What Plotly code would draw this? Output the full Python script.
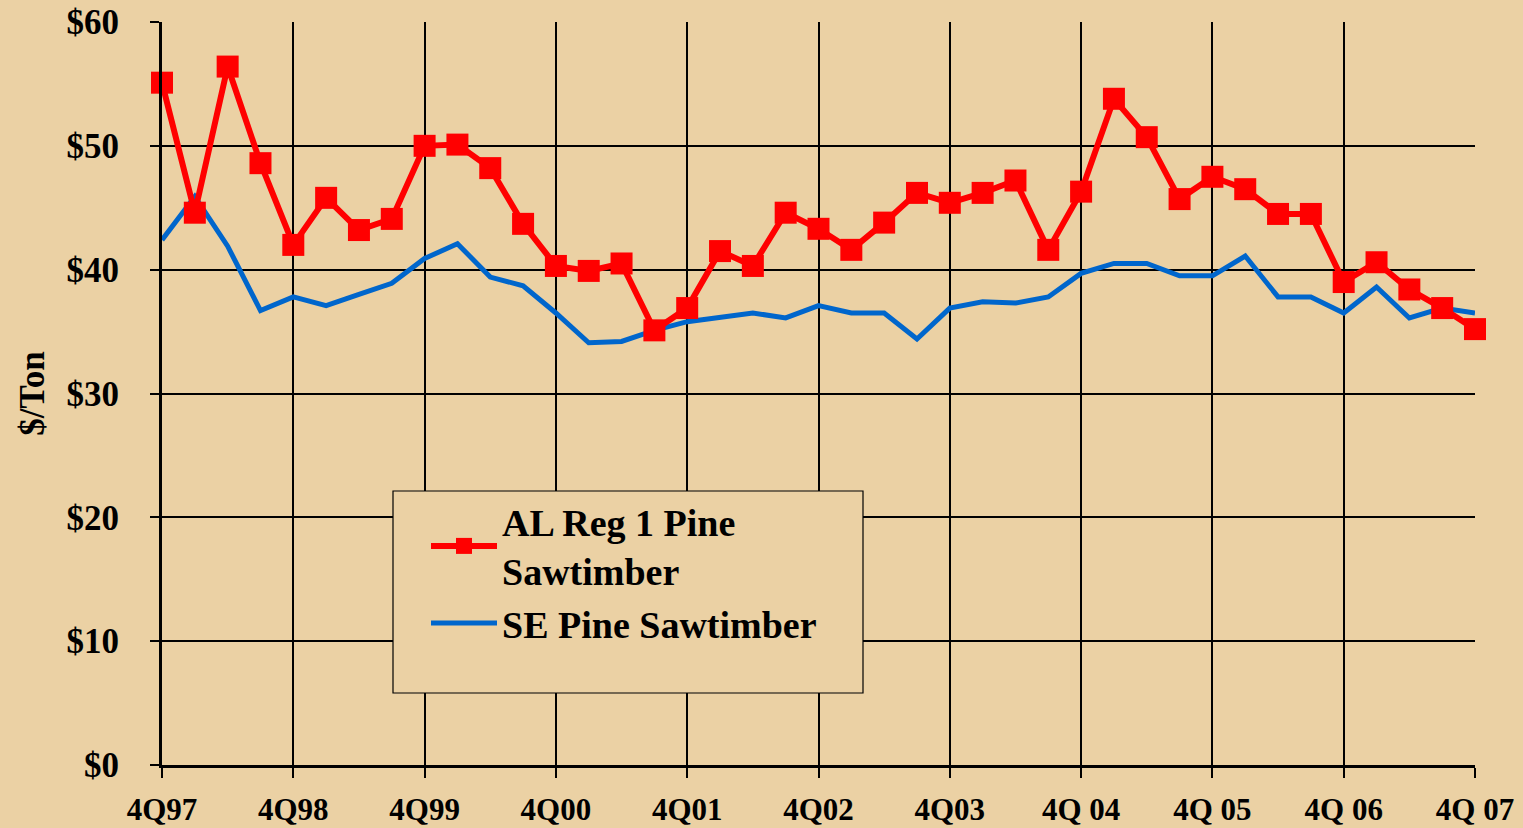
import plotly.graph_objects as go

quarters = [
    "4Q97", "1Q98", "2Q98", "3Q98", "4Q98", "1Q99", "2Q99", "3Q99", "4Q99",
    "1Q00", "2Q00", "3Q00", "4Q00", "1Q01", "2Q01", "3Q01", "4Q01",
    "1Q02", "2Q02", "3Q02", "4Q02", "1Q03", "2Q03", "3Q03", "4Q03",
    "1Q04", "2Q04", "3Q04", "4Q 04", "1Q05", "2Q05", "3Q05", "4Q 05",
    "1Q06", "2Q06", "3Q06", "4Q 06", "1Q07", "2Q07", "3Q07", "4Q 07",
]
tick_labels = ["4Q97", "4Q98", "4Q99", "4Q00", "4Q01", "4Q02", "4Q03",
               "4Q 04", "4Q 05", "4Q 06", "4Q 07"]

al_reg1 = [55.1, 44.6, 56.4, 48.6, 42.0, 45.8, 43.2, 44.1, 50.0,
           50.1, 48.2, 43.7, 40.3, 39.9, 40.5, 35.1, 36.9,
           41.5, 40.3, 44.6, 43.3, 41.6, 43.8, 46.2, 45.4,
           46.2, 47.2, 41.6, 46.3, 53.8, 50.7, 45.7, 47.5,
           46.5, 44.5, 44.5, 39.0, 40.6, 38.4, 36.9, 35.2]
se_pine = [42.4, 45.9, 41.9, 36.7, 37.8, 37.1, 38.0, 38.9, 40.9,
           42.1, 39.4, 38.7, 36.5, 34.1, 34.2, 35.1, 35.8,
           36.2, 36.5, 36.1, 37.1, 36.5, 36.5, 34.4, 36.9,
           37.4, 37.3, 37.8, 39.7, 40.5, 40.5, 39.5, 39.5,
           41.1, 37.8, 37.8, 36.5, 38.6, 36.1, 36.9, 36.5]
y_ticks = [0, 10, 20, 30, 40, 50, 60]
y_tick_labels = ["$0", "$10", "$20", "$30", "$40", "$50", "$60"]

bg = "#EBD1A4"
font_family = "Liberation Serif"

fig = go.Figure()
fig.add_trace(go.Scatter(
    x=quarters, y=se_pine, mode="lines",
    name="<b>SE Pine Sawtimber</b>",
    line=dict(color="#0066CC", width=5),
    cliponaxis=False, legendrank=2,
))
fig.add_trace(go.Scatter(
    x=quarters, y=al_reg1, mode="lines+markers",
    name="<b>AL Reg 1 Pine<br>Sawtimber</b>",
    line=dict(color="#FF0000", width=6),
    marker=dict(symbol="square", size=22, color="#FF0000"),
    cliponaxis=False, legendrank=1,
))

# legend frame (drawn as a box in paper coordinates)
fig.add_shape(type="rect", xref="paper", yref="paper",
              x0=(393 - 162) / 1313, x1=(863 - 162) / 1313,
              y0=(765 - 693) / 743, y1=(765 - 491) / 743,
              line=dict(color="black", width=1.2), fillcolor=bg, layer="above")

fig.update_layout(
    width=1523, height=828,
    margin=dict(l=162, r=48, t=22, b=63),
    paper_bgcolor=bg, plot_bgcolor=bg,
    font=dict(family=font_family, size=30, color="black"),
    showlegend=True,
    legend=dict(
        x=(426 - 162) / 1313, y=(765 - 490) / 743, xanchor="left", yanchor="top",
        bgcolor="rgba(0,0,0,0)", borderwidth=0,
        font=dict(size=38, family=font_family, color="black"),
        itemwidth=66, tracegroupgap=3, traceorder="normal",
    ),
    xaxis=dict(
        type="category", categoryorder="array", categoryarray=quarters,
        range=[0, len(quarters) - 1], automargin=False,
        tickmode="array", tickvals=tick_labels, ticktext=["<b>%s</b>" % t for t in tick_labels],
        showgrid=True, gridcolor="black", gridwidth=1.5,
        ticks="outside", ticklen=10, tickcolor="black", tickwidth=1.5,
        showline=True, linecolor="black", linewidth=3,
        tickfont=dict(size=31, family=font_family),
        ticklabelstandoff=5,
        zeroline=False,
    ),
    yaxis=dict(
        range=[0, 60], tickvals=y_ticks, automargin=False,
        ticktext=["<b>%s</b>" % t for t in y_tick_labels],
        showgrid=True, gridcolor="black", gridwidth=1.5,
        ticks="outside", ticklen=9, tickcolor="black", tickwidth=1.5,
        showline=True, linecolor="black", linewidth=3,
        tickfont=dict(size=35, family=font_family),
        ticklabelstandoff=24,
        title=dict(text="<b>$/Ton</b>", font=dict(size=35, family=font_family), standoff=12),
        zeroline=False,
    ),
)

fig.write_html("out.html", config={"displayModeBar": False},
               post_script="document.body.style.margin='0';document.body.style.background='%s';" % bg)
